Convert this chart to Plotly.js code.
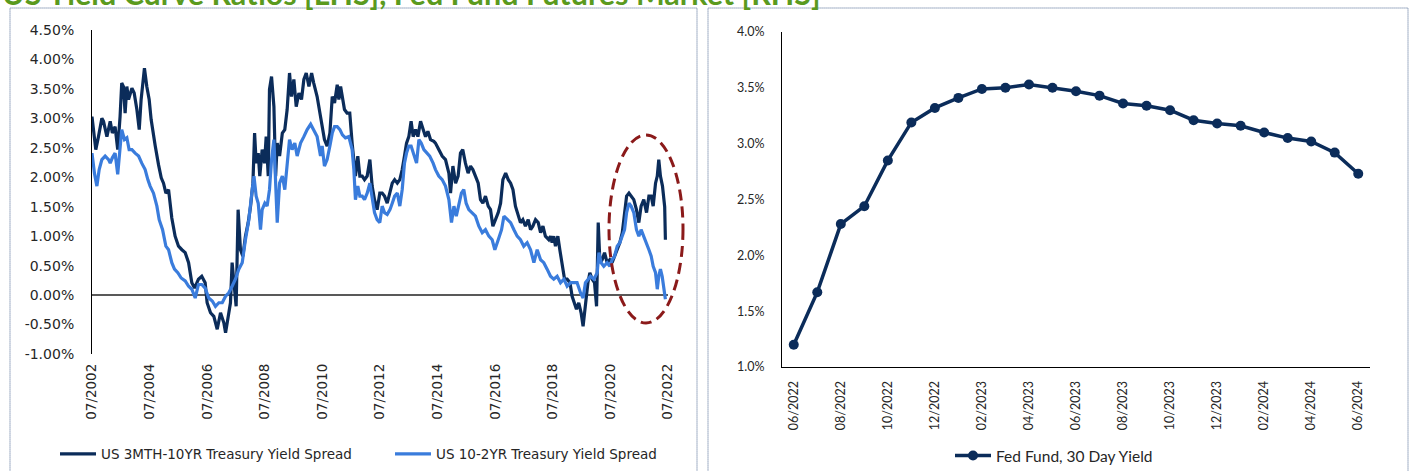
<!DOCTYPE html>
<html><head><meta charset="utf-8">
<script src="https://cdn.plot.ly/plotly-3.0.1.min.js"></script>
<style>html,body{margin:0;padding:0;background:#fff;overflow:hidden}#chart{width:1413px;height:471px}</style>
</head><body><div id="chart"></div>
<script>
// ---- Left chart: US 3MTH-10YR Treasury Yield Spread (%)
const dates3m10y = ["2002-07-01","2002-07-19","2002-08-18","2002-09-21","2002-11-03","2002-11-24","2003-01-06","2003-02-17","2003-03-16","2003-04-20","2003-05-23","2003-06-22","2003-07-13","2003-08-04","2003-08-25","2003-09-16","2003-10-07","2003-11-19","2003-12-18","2004-01-21","2004-02-20","2004-03-15","2004-04-06","2004-04-26","2004-05-26","2004-06-25","2004-07-20","2004-08-19","2004-09-10","2004-10-22","2004-11-25","2004-12-24","2005-01-23","2005-02-26","2005-03-18","2005-04-08","2005-05-20","2005-07-02","2005-08-14","2005-09-25","2005-11-07","2005-12-18","2006-01-22","2006-03-12","2006-04-23","2006-06-05","2006-06-30","2006-08-12","2006-09-23","2006-11-05","2006-12-17","2007-01-28","2007-02-19","2007-03-22","2007-04-22","2007-05-13","2007-06-04","2007-07-03","2007-07-28","2007-08-27","2007-09-26","2007-10-29","2007-12-03","2008-01-02","2008-02-01","2008-02-22","2008-03-13","2008-04-08","2008-04-28","2008-05-28","2008-06-27","2008-07-18","2008-08-13","2008-08-29","2008-09-24","2008-10-24","2008-11-15","2008-12-05","2009-01-04","2009-02-08","2009-03-11","2009-04-10","2009-05-10","2009-06-04","2009-07-04","2009-08-03","2009-09-06","2009-10-09","2009-11-08","2009-12-08","2010-01-11","2010-02-14","2010-03-13","2010-04-25","2010-06-07","2010-06-28","2010-07-27","2010-08-30","2010-10-04","2010-11-03","2010-12-02","2011-01-05","2011-01-26","2011-02-17","2011-03-12","2011-04-07","2011-05-10","2011-06-13","2011-07-13","2011-08-04","2011-08-24","2011-09-23","2011-10-19","2011-11-18","2011-12-17","2012-01-20","2012-02-23","2012-03-23","2012-04-22","2012-05-25","2012-06-28","2012-07-28","2012-08-27","2012-09-30","2012-11-04","2012-12-03","2013-01-02","2013-02-05","2013-03-09","2013-04-08","2013-05-07","2013-06-02","2013-07-01","2013-07-30","2013-08-25","2013-09-25","2013-10-24","2013-11-27","2013-12-30","2014-01-29","2014-02-28","2014-04-02","2014-05-14","2014-06-04","2014-07-16","2014-08-28","2014-10-09","2014-11-21","2014-12-12","2015-01-11","2015-02-14","2015-03-18","2015-04-17","2015-05-16","2015-06-19","2015-07-23","2015-08-22","2015-09-21","2015-10-24","2015-11-28","2015-12-27","2016-01-26","2016-02-28","2016-04-03","2016-05-02","2016-06-01","2016-07-04","2016-08-08","2016-09-07","2016-10-06","2016-11-10","2016-12-13","2017-01-12","2017-02-11","2017-03-14","2017-04-18","2017-05-17","2017-06-16","2017-07-19","2017-08-23","2017-09-22","2017-10-21","2017-11-24","2017-12-28","2018-01-27","2018-02-26","2018-03-29","2018-05-11","2018-06-02","2018-06-22","2018-07-13","2018-08-04","2018-09-03","2018-09-28","2018-10-28","2018-11-27","2018-12-30","2019-02-04","2019-03-03","2019-04-02","2019-04-27","2019-05-26","2019-06-25","2019-07-20","2019-08-19","2019-09-19","2019-10-14","2019-11-13","2019-12-12","2020-01-07","2020-01-28","2020-02-19","2020-03-18","2020-04-17","2020-05-20","2020-06-23","2020-07-22","2020-08-22","2020-09-25","2020-10-28","2020-11-28","2020-12-27","2021-01-22","2021-02-21","2021-03-20","2021-04-23","2021-05-27","2021-06-26","2021-07-25","2021-08-28","2021-10-02","2021-11-01","2021-11-30","2021-12-25","2022-01-24","2022-02-15","2022-03-06","2022-03-27","2022-04-22","2022-05-08","2022-05-20","2022-05-29"];
const spread3m10y = [3.03,2.81,2.47,2.69,3.00,2.95,2.69,2.95,2.75,2.86,2.47,3.03,3.60,3.54,3.09,3.54,3.32,3.51,3.43,3.15,2.81,3.32,3.60,3.85,3.54,3.32,2.98,2.67,2.53,2.21,1.99,1.90,1.73,1.79,1.51,1.31,1.00,0.83,0.77,0.72,0.55,0.21,0.12,0.27,0.32,0.21,-0.13,-0.30,-0.36,-0.58,-0.30,-0.47,-0.64,-0.36,-0.13,0.55,0.21,-0.19,1.45,0.77,0.66,1.00,1.23,1.51,1.90,2.75,2.24,2.41,2.02,2.47,2.24,2.69,2.02,3.49,3.71,3.20,2.02,2.58,2.36,2.75,2.81,3.15,3.77,3.37,3.66,3.20,3.43,3.32,3.66,3.77,3.54,3.77,3.60,3.37,3.03,2.86,2.64,2.53,2.75,3.37,3.26,3.57,3.32,3.54,3.32,3.15,3.09,3.09,2.58,2.24,2.02,2.36,2.02,2.02,1.96,2.02,2.30,1.85,1.62,1.45,1.73,1.73,1.68,1.56,1.73,1.90,1.96,1.90,1.96,2.13,2.36,2.58,2.69,2.95,2.69,2.81,2.69,2.95,2.81,2.69,2.78,2.64,2.61,2.58,2.47,2.36,2.30,2.07,1.73,2.19,1.90,2.02,2.41,2.47,2.24,2.07,2.19,2.13,2.02,1.90,1.62,1.56,1.68,1.51,1.45,1.17,1.28,1.40,1.56,1.96,2.07,1.96,1.90,1.79,1.51,1.34,1.23,1.28,1.17,1.28,1.11,1.17,1.28,1.23,1.06,1.17,1.00,0.94,1.00,0.89,1.00,0.83,1.00,0.77,0.55,0.27,0.27,0.21,-0.02,-0.13,-0.24,-0.13,-0.30,-0.53,-0.13,0.21,0.38,0.27,0.21,-0.19,1.23,0.55,0.60,0.72,0.55,0.60,0.55,0.66,0.77,0.89,1.06,1.34,1.68,1.73,1.68,1.62,1.45,1.23,1.51,1.62,1.40,1.68,1.68,1.51,1.90,2.02,2.30,2.02,1.85,1.62,1.50,0.94];

// ---- Left chart: US 10-2YR Treasury Yield Spread (%)
const dates10y2y = ["2002-07-01","2002-08-01","2002-09-01","2002-09-30","2002-11-03","2002-12-15","2003-01-27","2003-02-17","2003-03-16","2003-04-20","2003-05-23","2003-06-22","2003-07-13","2003-08-17","2003-09-16","2003-10-15","2003-11-19","2003-12-30","2004-02-12","2004-03-23","2004-05-05","2004-06-08","2004-07-07","2004-08-19","2004-10-01","2004-10-30","2004-12-12","2005-01-23","2005-02-26","2005-04-08","2005-05-12","2005-06-23","2005-08-05","2005-09-25","2005-11-07","2005-12-18","2006-01-30","2006-03-12","2006-04-23","2006-06-05","2006-07-21","2006-09-03","2006-10-14","2006-11-26","2007-01-08","2007-02-19","2007-04-01","2007-05-13","2007-06-24","2007-08-06","2007-09-18","2007-10-29","2007-12-11","2008-01-23","2008-02-14","2008-03-13","2008-04-08","2008-05-07","2008-05-28","2008-07-01","2008-07-30","2008-08-29","2008-09-24","2008-10-24","2008-11-15","2008-12-05","2009-01-04","2009-02-08","2009-03-11","2009-04-10","2009-05-10","2009-06-12","2009-07-16","2009-08-15","2009-09-27","2009-11-08","2009-12-20","2010-02-02","2010-03-13","2010-04-25","2010-06-07","2010-06-28","2010-07-27","2010-08-30","2010-10-04","2010-11-03","2010-12-02","2011-01-05","2011-02-08","2011-03-12","2011-04-19","2011-06-01","2011-07-13","2011-08-04","2011-08-24","2011-09-23","2011-10-19","2011-11-18","2011-12-17","2012-01-20","2012-02-23","2012-03-23","2012-04-22","2012-05-25","2012-06-28","2012-07-28","2012-08-27","2012-09-30","2012-11-04","2012-12-03","2013-01-02","2013-02-05","2013-03-09","2013-04-08","2013-05-07","2013-06-02","2013-07-01","2013-07-30","2013-09-03","2013-10-07","2013-11-06","2013-12-05","2014-01-08","2014-02-12","2014-03-23","2014-05-05","2014-06-04","2014-07-16","2014-08-28","2014-10-09","2014-11-21","2014-12-24","2015-01-24","2015-02-23","2015-03-26","2015-04-29","2015-05-29","2015-06-28","2015-08-01","2015-09-13","2015-10-24","2015-12-06","2016-01-18","2016-02-28","2016-04-11","2016-05-23","2016-06-26","2016-08-08","2016-09-19","2016-10-19","2016-11-30","2017-01-12","2017-02-23","2017-04-05","2017-05-17","2017-06-28","2017-08-10","2017-09-22","2017-11-03","2017-12-15","2018-01-27","2018-03-09","2018-04-20","2018-06-02","2018-07-13","2018-08-25","2018-10-07","2018-11-19","2018-12-30","2019-02-12","2019-03-23","2019-05-05","2019-06-17","2019-07-20","2019-08-19","2019-09-19","2019-10-22","2019-12-04","2020-01-15","2020-02-06","2020-03-05","2020-04-08","2020-05-20","2020-06-23","2020-07-22","2020-08-22","2020-09-25","2020-10-28","2020-11-28","2020-12-27","2021-01-22","2021-02-21","2021-03-20","2021-04-23","2021-05-27","2021-06-26","2021-07-25","2021-08-28","2021-10-02","2021-11-01","2021-11-30","2021-12-25","2022-01-24","2022-02-15","2022-03-06","2022-03-27","2022-04-18","2022-05-08","2022-05-29"];
const spread10y2y = [2.41,2.07,1.85,2.13,2.30,2.36,2.30,2.24,2.33,2.41,2.05,2.53,2.81,2.64,2.67,2.47,2.47,2.41,2.36,2.24,2.13,1.96,1.85,1.73,1.51,1.28,1.11,0.83,0.77,0.55,0.44,0.38,0.29,0.24,0.15,0.10,-0.05,0.18,0.18,0.12,-0.05,-0.10,-0.19,-0.13,-0.13,-0.02,0.04,0.15,0.27,0.44,0.55,0.94,1.28,1.79,2.02,1.68,1.56,1.11,1.45,1.56,1.51,1.79,2.30,2.64,1.90,1.23,1.90,2.02,1.79,2.30,2.64,2.47,2.58,2.36,2.58,2.69,2.81,2.90,2.81,2.69,2.36,2.53,2.19,2.30,2.53,2.75,2.86,2.86,2.81,2.72,2.67,2.69,2.47,2.13,1.62,1.85,1.68,1.68,1.62,1.73,1.90,1.62,1.40,1.28,1.23,1.51,1.40,1.37,1.45,1.56,1.68,1.73,1.51,1.79,2.24,2.41,2.53,2.53,2.36,2.24,2.64,2.58,2.47,2.41,2.36,2.24,2.13,2.02,1.96,1.85,1.62,1.23,1.51,1.34,1.51,1.73,1.79,1.56,1.45,1.40,1.34,1.17,1.06,1.11,1.00,0.94,0.77,0.94,1.11,1.34,1.28,1.23,1.11,1.00,0.94,0.83,0.89,0.77,0.55,0.77,0.60,0.55,0.44,0.32,0.27,0.32,0.21,0.27,0.15,0.21,0.21,0.21,0.04,-0.05,0.21,0.27,0.32,0.27,0.38,0.72,0.55,0.49,0.55,0.49,0.60,0.66,0.83,0.89,1.00,1.11,1.40,1.56,1.51,1.40,1.11,1.00,1.11,1.00,0.89,0.77,0.66,0.49,0.38,0.10,0.32,0.44,0.32,0.10,-0.07];

const leftXTickVals = ["2002-07-01","2004-07-01","2006-07-01","2008-07-01","2010-07-01","2012-07-01","2014-07-01","2016-07-01","2018-07-01","2020-07-01","2022-07-01"];
const leftXTickText = ["07/2002","07/2004","07/2006","07/2008","07/2010","07/2012","07/2014","07/2016","07/2018","07/2020","07/2022"];
const leftYTickVals = [-1,-0.5,0,0.5,1,1.5,2,2.5,3,3.5,4,4.5];
const leftYTickText = ["-1.00%","-0.50%","0.00%","0.50%","1.00%","1.50%","2.00%","2.50%","3.00%","3.50%","4.00%","4.50%"];

// ---- Right chart: Fed Fund, 30 Day Yield (%)
const fedMonths = ["06/2022","07/2022","08/2022","09/2022","10/2022","11/2022","12/2022","01/2023","02/2023","03/2023","04/2023","05/2023","06/2023","07/2023","08/2023","09/2023","10/2023","11/2023","12/2023","01/2024","02/2024","03/2024","04/2024","05/2024","06/2024"];
const fedYield = [1.20,1.67,2.28,2.44,2.85,3.19,3.32,3.41,3.49,3.50,3.53,3.50,3.47,3.43,3.36,3.34,3.30,3.21,3.18,3.16,3.10,3.05,3.02,2.92,2.73];
const fedTickVals = ["06/2022","08/2022","10/2022","12/2022","02/2023","04/2023","06/2023","08/2023","10/2023","12/2023","02/2024","04/2024","06/2024"];

const NAVY = "#0b2c5a", LIGHT = "#3a7cdc", TXT = "#262626";
const W = 1413, H = 471;
const px = v => v / W, py = v => (H - v) / H;
const LF = {family: "DejaVu Sans", size: 13.5, color: TXT};
const RF = {family: "Lato", size: 12.5, color: TXT};

const traces = [
  {x: dates3m10y, y: spread3m10y, type: "scatter", mode: "lines", name: "US 3MTH-10YR Treasury Yield Spread",
   line: {color: NAVY, width: 3.2}, xaxis: "x", yaxis: "y", legend: "legend"},
  {x: dates10y2y, y: spread10y2y, type: "scatter", mode: "lines", name: "US 10-2YR Treasury Yield Spread",
   line: {color: LIGHT, width: 3.2}, xaxis: "x", yaxis: "y", legend: "legend2"},
  {x: fedMonths, y: fedYield, type: "scatter", mode: "lines+markers", name: "Fed Fund, 30 Day Yield",
   line: {color: NAVY, width: 3.5}, marker: {color: NAVY, size: 10}, xaxis: "x2", yaxis: "y2", legend: "legend3"}
];

const layout = {
  width: W, height: H,
  margin: {l: 0, r: 0, t: 0, b: 0, pad: 0, autoexpand: false},
  paper_bgcolor: "#ffffff", plot_bgcolor: "#ffffff",
  showlegend: true,
  xaxis: {domain: [px(92), px(668)], type: "date", range: ["2002-07-01", "2022-07-01"],
    tickvals: leftXTickVals, ticktext: leftXTickText, tickangle: -90, tickfont: LF,
    showgrid: false, zeroline: false, showline: false, ticks: "", ticklabelstandoff: 6, anchor: "y"},
  yaxis: {domain: [py(354), py(30)], range: [-1, 4.5], tickvals: leftYTickVals, ticktext: leftYTickText,
    tickfont: {family: "DejaVu Sans", size: 14, color: TXT}, showgrid: false,
    zeroline: true, zerolinecolor: "#595959", zerolinewidth: 2,
    showline: true, linecolor: "#000000", linewidth: 1, ticks: "", ticklabelstandoff: 14, anchor: "x"},
  xaxis2: {domain: [px(782), px(1370)], type: "category", range: [-0.5, 24.5],
    tickvals: fedTickVals, tickangle: -90, tickfont: RF,
    showgrid: false, zeroline: false, showline: true, linecolor: "#000000", linewidth: 1,
    ticks: "", ticklabelstandoff: 8, anchor: "y2"},
  yaxis2: {domain: [py(367), py(32)], range: [1, 4], dtick: 0.5, tick0: 1, tickformat: ".1f", ticksuffix: "%",
    tickfont: RF, showgrid: false, zeroline: false, showline: true, linecolor: "#000000", linewidth: 1,
    ticks: "", ticklabelstandoff: 14, anchor: "x2"},
  legend: {orientation: "h", x: px(55), xanchor: "left", y: py(454), yanchor: "middle",
    font: {family: "DejaVu Sans", size: 13.5, color: TXT}, bgcolor: "rgba(0,0,0,0)", itemwidth: 36},
  legend2: {orientation: "h", x: px(390), xanchor: "left", y: py(454), yanchor: "middle",
    font: {family: "DejaVu Sans", size: 13.5, color: TXT}, bgcolor: "rgba(0,0,0,0)", itemwidth: 36},
  legend3: {orientation: "h", x: px(950), xanchor: "left", y: py(456), yanchor: "middle",
    font: {family: "Lato", size: 15.5, color: TXT}, bgcolor: "rgba(0,0,0,0)", itemwidth: 36},
  shapes: [
    {type: "rect", xref: "paper", yref: "paper", x0: px(10), x1: px(697), y0: -0.05, y1: py(8),
     line: {color: "#4a6590", width: 1, dash: "1px,1px"}, fillcolor: "rgba(0,0,0,0)", layer: "below"},
    {type: "rect", xref: "paper", yref: "paper", x0: px(708), x1: px(1408), y0: -0.05, y1: py(8),
     line: {color: "#4a6590", width: 1, dash: "1px,1px"}, fillcolor: "rgba(0,0,0,0)", layer: "below"},
    {type: "circle", xref: "paper", yref: "paper", x0: px(609), x1: px(683), y0: py(323), y1: py(135),
     line: {color: "#8b1a1a", width: 3, dash: "11px,6px"}, fillcolor: "rgba(0,0,0,0)"}
  ],
  annotations: [
    {xref: "paper", yref: "paper", x: 0, xanchor: "left", y: py(13), yanchor: "bottom", showarrow: false,
     text: "<b>US Yield Curve Ratios [LHS], Fed Fund Futures Market [RHS]</b>",
     font: {family: "Lato", size: 30.5, color: "#5a9a1e"}}
  ]
};

Plotly.newPlot("chart", traces, layout, {displayModeBar: false, staticPlot: true});
</script>
</body></html>
